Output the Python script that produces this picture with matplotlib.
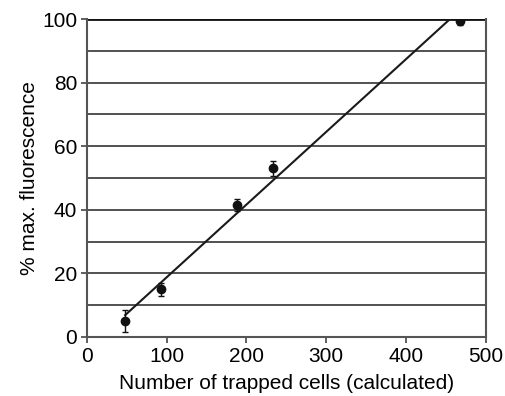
import matplotlib
matplotlib.use("Agg")
import matplotlib.pyplot as plt
import numpy as np

cells = [48, 93, 188, 233, 468]
fluor = [5, 15, 41.5, 53, 99.5]
err = [3.5, 2.0, 2.0, 2.5, 1.5]

# regression line endpoints (x range) and coefficients
fit_x = [48, 455]
slope, intercept = 0.2287, -4.1

plt.rcParams["font.family"] = ["Liberation Sans", "DejaVu Sans"]

fig = plt.figure(figsize=(5.05, 3.96), dpi=100)
ax = fig.add_axes([0.172, 0.149, 0.79, 0.803])

for y in range(10, 101, 10):
    ax.axhline(y, color="#222222" if y < 100 else "#111111",
               lw=1.1 if y < 100 else 2.0, zorder=1)

fx = np.array(fit_x)
ax.plot(fx, slope * fx + intercept, color="#1a1a1a", lw=1.5, zorder=2)
ax.errorbar(cells, fluor, yerr=err, fmt="o", color="#111111", ms=6,
            elinewidth=1.0, capsize=2.5, capthick=1.0, zorder=3)

ax.set_xlim(0, 500)
ax.set_ylim(0, 100)
ax.set_xticks([0, 100, 200, 300, 400, 500])
ax.set_yticks([0, 20, 40, 60, 80, 100])
ax.tick_params(labelsize=15, length=4, width=1.2, color="#444444", pad=3)
for s in ["left", "bottom", "right"]:
    ax.spines[s].set_color("#555555")
    ax.spines[s].set_linewidth(1.5)
ax.spines["top"].set_visible(False)

ax.set_xlabel("Number of trapped cells (calculated)", fontsize=15, labelpad=6)
ax.set_ylabel("% max. fluorescence", fontsize=15, labelpad=2)

fig.savefig("out.png", dpi=100)
